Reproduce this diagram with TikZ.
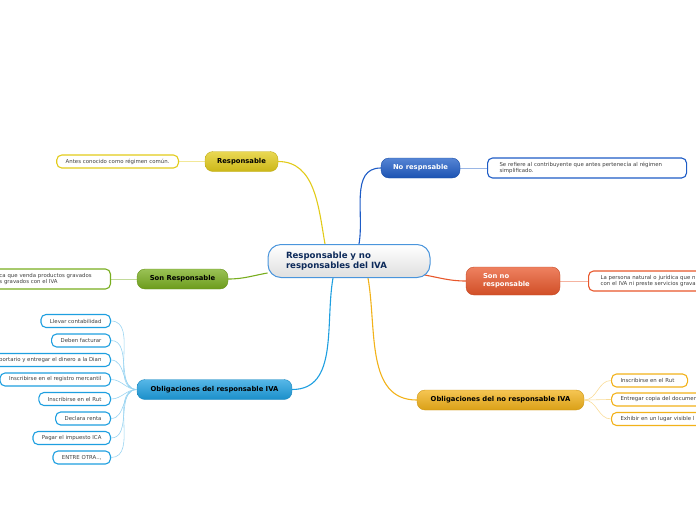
\documentclass[tikz,border=0pt]{standalone}
\usepackage{fontspec}
\setmainfont{DejaVu Sans}
\usetikzlibrary{backgrounds}
\definecolor{cy}{HTML}{E2CB1A}
\definecolor{cb}{HTML}{1E5CC6}
\definecolor{cg}{HTML}{78AD1E}
\definecolor{co}{HTML}{E8572B}
\definecolor{cc}{HTML}{1E9FE0}
\definecolor{cgd}{HTML}{F2B21A}
\definecolor{cm}{HTML}{4A95DC}
\definecolor{cn}{HTML}{0D2A5A}
\tikzset{br/.style={rounded corners=8pt,draw=#1!85!black,top color=#1!75!white,bottom color=#1!90!black,minimum height=20,inner sep=0pt,font=\fontsize{6.8}{8}\selectfont\bfseries},
lf/.style={draw=#1,line width=1.1pt,fill=white,rounded corners=5pt,minimum height=13,inner xsep=9pt,inner ysep=0pt,font=\fontsize{5.4}{6.6}\selectfont,text=black!75},
ln/.style={draw=#1,line width=1.1pt},sl/.style={draw=#1!45,line width=0.6pt}}
\begin{document}
\begin{tikzpicture}[x=1pt,y=-1pt]
\useasboundingbox(0,0)rectangle(696,520);
\clip(0,0)rectangle(696,520);
\node[draw=cm,line width=1pt,rounded corners=13pt,top color=white,bottom color=gray!25,minimum height=33,text width=126,align=left,inner xsep=18,font=\fontsize{8.6}{10}\selectfont\bfseries,text=cn](ctr)at(349,261){Responsable y no\\responsables del IVA};
\node[br=cy,minimum width=73](resp)at(241.5,161.5){Responsable};
\node[br=cb,minimum width=79,text=white](nresp)at(420.5,168){No respnsable};
\node[br=cg,minimum width=91](sresp)at(182.5,279){Son Responsable};
\node[br=co,minimum height=28,text width=60,inner xsep=17,align=left,text=white](snresp)at(513,281){Son no\\responsable};
\node[br=cc,minimum width=155](oblr)at(214.5,389.5){Obligaciones del responsable IVA};
\node[br=cgd,minimum width=167](obln)at(500.5,400){Obligaciones del no responsable IVA};
\node[lf=cy,anchor=east](a1)at(179,161.5){Antes conocido como régimen común.};
\node[lf=cb,anchor=west,text width=175,align=left,inner xsep=12,minimum height=20](b1)at(487,168){Se refiere al contribuyente que antes pertenecía al régimen\\simplificado.};
\node[lf=cg,anchor=east,text width=104,align=left,inner xsep=7,minimum height=20](c1)at(111,279){ca que venda productos gravados\\s gravados con el IVA};
\node[lf=co,anchor=west,text width=110,align=left,inner xsep=12,minimum height=20](d1)at(588,281){La persona natural o jurídica que n\\con el IVA ni preste servicios grava};
\foreach\t/\y[count=\i]in{Llevar contabilidad/321,Deben facturar/340.5,portario y entregar el dinero a la Dian/360,Inscribirse en el registro mercantil/379.5,Inscribirse en el Rut/399,Declara renta/418.5,Pagar el impuesto ICA/438,{ENTRE OTRA..,}/457.5}{\node[lf=cc,anchor=east](o\i)at(111,\y){\t};\draw[sl=cc](o\i.east)to[out=0,in=180](oblr.west);}
\foreach\t/\y/\w[count=\i]in{Inscribirse en el Rut/380.5/58,Entregar copia del documen/399.5/90,Exhibir en un lugar visible l/419/90}{\node[lf=cgd,anchor=west,text width=\w,align=left](n\i)at(611,\y){\t};\draw[sl=cgd](obln.east)to[out=0,in=180](n\i.west);}
\begin{scope}[on background layer]
\draw[ln=cy]([xshift=-24]ctr.north)to[out=100,in=0](resp.east);
\draw[ln=cb]([xshift=10]ctr.north)to[out=80,in=180](nresp.west);
\draw[ln=cg]([yshift=-12]ctr.west)to[out=190,in=0](sresp.east);
\draw[ln=co]([xshift=-6,yshift=3]ctr.south east)to[out=-10,in=180](snresp.west);
\draw[ln=cc]([xshift=-16]ctr.south)to[out=-100,in=0](oblr.east);
\draw[ln=cgd]([xshift=19]ctr.south)to[out=-80,in=180](obln.west);
\draw[sl=cy](a1.east)--(resp.west);
\draw[sl=cb](nresp.east)--(b1.west);
\draw[sl=cg](c1.east)--(sresp.west);
\draw[sl=co](snresp.east)--(d1.west);
\end{scope}
\end{tikzpicture}
\end{document}
